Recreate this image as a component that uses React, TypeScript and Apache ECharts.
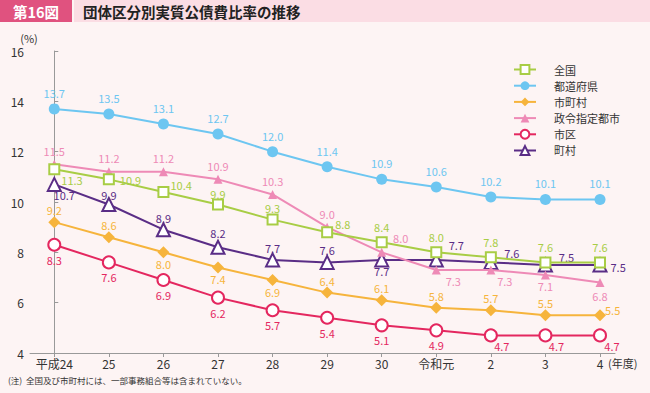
import React, { useEffect, useRef } from "react";
import * as echarts from "echarts";

const years = ["平成24", "25", "26", "27", "28", "29", "30", "令和元", "2", "3", "4"];
const zenkoku = [11.3, 10.9, 10.4, 9.9, 9.3, 8.8, 8.4, 8.0, 7.8, 7.6, 7.6];
const todofuken = [13.7, 13.5, 13.1, 12.7, 12.0, 11.4, 10.9, 10.6, 10.2, 10.1, 10.1];
const shichoson = [9.2, 8.6, 8.0, 7.4, 6.9, 6.4, 6.1, 5.8, 5.7, 5.5, 5.5];
const seirei = [11.5, 11.2, 11.2, 10.9, 10.3, 9.0, 8.0, 7.3, 7.3, 7.1, 6.8];
const shiku = [8.3, 7.6, 6.9, 6.2, 5.7, 5.4, 5.1, 4.9, 4.7, 4.7, 4.7];
const choson = [10.7, 9.9, 8.9, 8.2, 7.7, 7.6, 7.7, 7.7, 7.6, 7.5, 7.5];
const yTicks = [4, 6, 8, 10, 12, 14, 16];

type L = [string, number, number];

const lbGreen: L[] = [
  ["right", -4, 11], ["right", 0, 1], ["right", -4, -7], ["top", 0, 6], ["top", 0, 5],
  ["right", -3, -8], ["top", 0, 1], ["top", 0, 1], ["top", 0, 1], ["top", 0, 1], ["top", 0, 1],
];
const lbBlue: L[] = years.map(() => ["top", 0, 0] as L);
const lbOrange: L[] = [
  ["top", 0, 4.5], ["top", 0, 4.5], ["bottom", 0, -4.5], ["bottom", 0, -4.5], ["bottom", 0, -4.5],
  ["top", 0, 4.5], ["top", 0, 4.5], ["top", 0, 4.5], ["top", 0, 4.5], ["top", 0, 4.5], ["right", -6, -5],
];
const lbPink: L[] = [
  ["top", 0, 1.5], ["top", 0, 1.5], ["top", 0, 1.5], ["top", 0, 1.5], ["top", 0, 1.5], ["top", 0, 1.5],
  ["top", 19, 1], ["bottom", 17, -4], ["bottom", 14, -4], ["bottom", 0, -4], ["bottom", 0, -1.5],
];
const lbCrimson: L[] = [
  ["bottom", 0, -2.5], ["bottom", 0, -2.5], ["bottom", 0, -2.5], ["bottom", 0, -2.5], ["bottom", 0, -2.5],
  ["bottom", 0, -2.5], ["bottom", 0, -2.5], ["bottom", 0, -2.5], ["bottom", 11, -7], ["bottom", 11, -7], ["bottom", 12, -7],
];
const lbPurple: L[] = [
  ["bottom", 10, -7.5], ["top", 0, 8], ["top", 0, 6], ["top", 0, 4], ["top", 0, 6], ["top", 0, 6],
  ["bottom", 0, -6.5], ["top", 20, 3.5], ["top", 21, 8.5], ["top", 21, 10], ["right", -2, 2],
];

const C = {
  green: "#a8cd45",
  blue: "#6dc6f1",
  orange: "#f6b43c",
  pink: "#ee8ab6",
  crimson: "#e4275f",
  purple: "#5a2d86",
};

function mk(values: number[], labels: L[]) {
  return values.map((v, i) => ({
    value: [i, v],
    label: { position: labels[i][0], offset: [labels[i][1], labels[i][2]] },
  }));
}

function series(
  name: string,
  values: number[],
  labels: L[],
  color: string,
  symbol: string,
  symbolSize: number,
  hollow: boolean,
  z: number
) {
  return {
    name,
    type: "line",
    data: mk(values, labels),
    color,
    symbol,
    symbolSize,
    z,
    lineStyle: { color, width: 2 },
    itemStyle: hollow
      ? { color: "#ffffff", borderColor: color, borderWidth: 2 }
      : { color, borderWidth: 0 },
    label: {
      show: true,
      color,
      fontSize: 11,
      formatter: (p: any) => p.value[1].toFixed(1),
    },
  };
}

export default function App() {
  const ref = useRef<HTMLDivElement>(null);
  useEffect(() => {
    if (!ref.current) return;
    const chart = echarts.init(ref.current, null, { renderer: "svg" });
    const idx = years.map((_, i) => i);
    chart.setOption({
      animation: false,
      backgroundColor: "#fdf4f4",
      textStyle: { fontFamily: "'Noto Sans CJK JP', 'Noto Sans', sans-serif" },
      grid: { left: 30, right: 35, top: 51, bottom: 40 },
      xAxis: {
        type: "value",
        min: -0.445,
        max: 10.275,
        splitLine: { show: false },
        axisLine: { show: true, lineStyle: { color: "#999999", width: 1 } },
        axisTick: { show: true, customValues: idx, length: 4, lineStyle: { color: "#999999" } },
        axisLabel: {
          customValues: idx,
          color: "#333333",
          fontSize: 12,
          margin: 4,
          formatter: (v: number) => years[Math.round(v)],
        },
      },
      yAxis: {
        type: "value",
        min: 4,
        max: 16,
        interval: 2,
        splitLine: { show: false },
        axisLine: { show: true, lineStyle: { color: "#999999", width: 1 } },
        axisTick: { show: true, inside: true, length: 4, lineStyle: { color: "#999999" } },
        axisLabel: {
          color: "#333333",
          fontSize: 12,
          margin: 6,
          customValues: yTicks,
        },
      },
      legend: {
        orient: "vertical",
        left: 508,
        top: 59,
        itemWidth: 22,
        itemHeight: 11,
        itemGap: 5.2,
        data: ["全国", "都道府県", "市町村", "政令指定都市", "市区", "町村"],
        textStyle: { color: "#333333", fontSize: 11, padding: [0, 0, 0, 13] },
      },
      graphic: [
        { type: "rect", shape: { x: 0, y: 0, width: 72, height: 22 }, style: { fill: "#e0527f" } },
        {
          type: "text",
          x: 36,
          y: 11,
          style: {
            text: "第16図",
            fill: "#ffffff",
            font: "bold 14.5px 'Noto Sans CJK JP'",
            align: "center",
            verticalAlign: "middle",
          },
        },
        { type: "rect", shape: { x: 74, y: 0, width: 576, height: 22 }, style: { fill: "#fbdde4" } },
        {
          type: "text",
          x: 83,
          y: 11,
          style: {
            text: "団体区分別実質公債費比率の推移",
            fill: "#222222",
            font: "bold 14.5px 'Noto Sans CJK JP'",
            align: "left",
            verticalAlign: "middle",
          },
        },
        {
          type: "text",
          x: 29,
          y: 38,
          style: {
            text: "(%)",
            fill: "#333333",
            font: "11px 'Noto Sans CJK JP'",
            align: "center",
            verticalAlign: "middle",
          },
        },
        {
          type: "text",
          x: 608,
          y: 363,
          style: {
            text: "(年度)",
            fill: "#333333",
            font: "11px 'Noto Sans CJK JP'",
            align: "left",
            verticalAlign: "middle",
          },
        },
        {
          type: "text",
          x: 8,
          y: 380,
          style: {
            text: "(注)  全国及び市町村には、一部事務組合等は含まれていない。",
            fill: "#333333",
            font: "8.5px 'Noto Sans CJK JP'",
            align: "left",
            verticalAlign: "middle",
          },
        },
      ],
      series: [
        series("町村", choson, lbPurple, C.purple, "triangle", 13, true, 2),
        series("市区", shiku, lbCrimson, C.crimson, "circle", 12, true, 2),
        series("市町村", shichoson, lbOrange, C.orange, "diamond", 12, false, 2),
        series("政令指定都市", seirei, lbPink, C.pink, "triangle", 9, false, 3),
        series("都道府県", todofuken, lbBlue, C.blue, "circle", 11, false, 3),
        series("全国", zenkoku, lbGreen, C.green, "rect", 10, true, 4),
      ],
    });
    return () => chart.dispose();
  }, []);
  return (
    <div
      ref={ref}
      style={{ position: "fixed", left: 0, top: 0, width: 650, height: 393 }}
    />
  );
}
